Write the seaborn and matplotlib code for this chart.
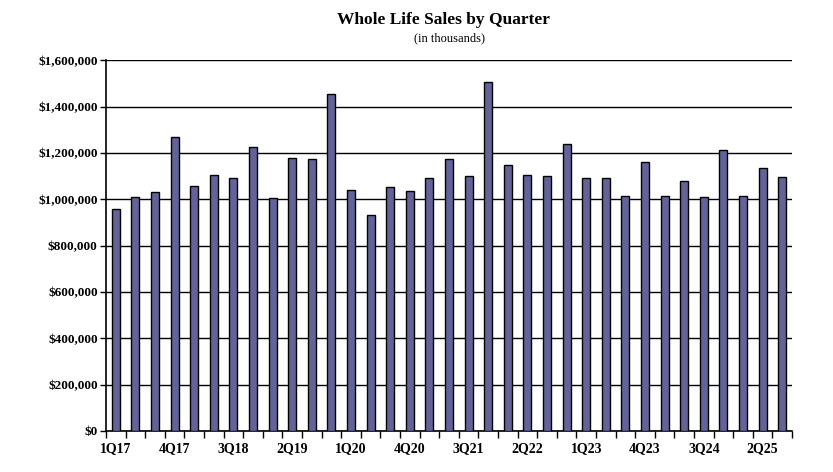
import seaborn as sns
import pandas as pd
import matplotlib.pyplot as plt
from matplotlib.ticker import FuncFormatter, FixedLocator

quarters = ['1Q17', '2Q17', '3Q17', '4Q17',
            '1Q18', '2Q18', '3Q18', '4Q18',
            '1Q19', '2Q19', '3Q19', '4Q19',
            '1Q20', '2Q20', '3Q20', '4Q20',
            '1Q21', '2Q21', '3Q21', '4Q21',
            '1Q22', '2Q22', '3Q22', '4Q22',
            '1Q23', '2Q23', '3Q23', '4Q23',
            '1Q24', '2Q24', '3Q24', '4Q24',
            '1Q25', '2Q25', '3Q25']
sales = [957000, 1009000, 1030000, 1268000,
         1056000, 1104000, 1091000, 1225000,
         1004000, 1177000, 1173000, 1453000,
         1039000, 931000, 1052000, 1035000,
         1091000, 1173000, 1099000, 1505000,
         1147000, 1104000, 1099000, 1237000,
         1091000, 1091000, 1013000, 1160000,
         1013000, 1078000, 1009000, 1212000,
         1013000, 1134000, 1095000]

df = pd.DataFrame({'quarter': quarters, 'sales': sales})

sns.set_style("white")
plt.rcParams['font.family'] = ['Liberation Serif', 'DejaVu Serif']
plt.rcParams['text.color'] = 'black'

fig = plt.figure(figsize=(8.33, 4.72), dpi=100)
ax = fig.add_axes([0.1273, 0.0869, 0.8235, 0.7853])

sns.barplot(data=df, x='quarter', y='sales', color='#63639A', saturation=1,
            width=0.41, edgecolor='black', linewidth=1, ax=ax, zorder=3)

ax.set_ylim(0, 1600000)
ax.set_xlim(-0.5, len(quarters) - 0.5)
ax.set_yticks(range(0, 1600001, 200000))
ax.yaxis.set_major_formatter(FuncFormatter(lambda v, p: '${:,.0f}'.format(v)))
ax.grid(axis='y', color='black', linewidth=1, zorder=0)
ax.set_axisbelow(True)

# labels every third quarter, ticks on the category boundaries
ax.set_xticks(range(0, len(quarters), 3))
ax.set_xticklabels(quarters[::3])
ax.xaxis.set_minor_locator(FixedLocator([i - 0.5 for i in range(len(quarters) + 1)]))
ax.tick_params(axis='x', which='major', length=0, pad=8)
ax.tick_params(axis='x', which='minor', length=5, width=1, color='black', direction='out', bottom=True)
ax.tick_params(axis='y', length=4, width=1, color='black', direction='out', left=True, pad=2)

for lab in ax.get_yticklabels():
    lab.set_fontweight('bold')
    lab.set_fontsize(9.5)
    lab.set_color('black')
for lab in ax.get_xticklabels():
    lab.set_fontweight('bold')
    lab.set_fontsize(10)
    lab.set_color('black')

ax.set_xlabel('')
ax.set_ylabel('')
for s in ['top', 'right']:
    ax.spines[s].set_visible(False)
for s in ['left', 'bottom']:
    ax.spines[s].set_color('black')
    ax.spines[s].set_linewidth(1.2)

fig.text(0.532, 0.957, 'Whole Life Sales by Quarter', ha='center', va='center',
         fontsize=12.5, fontweight='bold', color='black')
fig.text(0.54, 0.918, '(in thousands)', ha='center', va='center', fontsize=9, color='black')

plt.savefig('out.png', dpi=100)
